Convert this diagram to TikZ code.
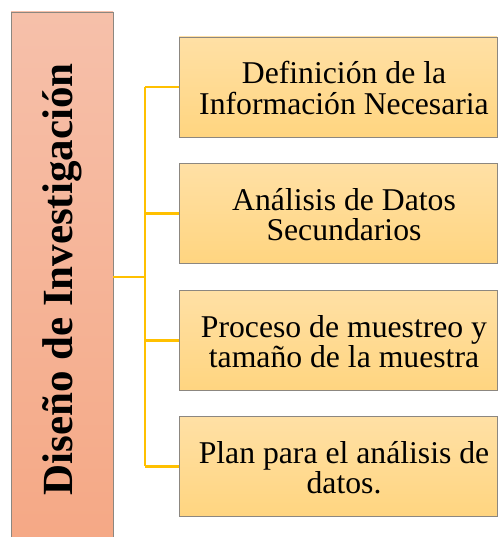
\documentclass[tikz,border=0pt]{standalone}
\usepackage{fontspec}
\usepackage{graphicx}
\setmainfont{Liberation Serif}
\definecolor{ltop}{RGB}{246,192,170}
\definecolor{lbot}{RGB}{245,168,133}
\definecolor{rtop}{RGB}{255,224,165}
\definecolor{rbot}{RGB}{255,213,128}
\definecolor{edge}{RGB}{140,135,128}
\definecolor{conn}{RGB}{255,192,0}
\tikzset{
  itembox/.style={draw=edge, line width=0.9pt, top color=rtop, bottom color=rbot,
    minimum width=318pt, minimum height=100pt, inner sep=0pt},
  itemtext/.style={inner sep=0pt, align=center,
    font=\fontsize{31.7}{30.5}\selectfont},
  mainbox/.style={draw=edge, line width=0.9pt, top color=ltop, bottom color=lbot,
    minimum width=102pt, minimum height=535pt, inner sep=0pt},
  link/.style={draw=conn, line width=2.2pt}
}
\begin{document}
\begin{tikzpicture}[x=1pt,y=1pt]
\useasboundingbox (0,0) rectangle (501,537);
\clip (0,0) rectangle (501,537);
\node[mainbox] (L) at (62,257.5) {\rotatebox{90}{\fontsize{43}{43}\selectfont\bfseries Diseño de Investigación}};
\node[itembox] (B1) at (338,450) {};
\node[itembox] (B2) at (338,323.5) {};
\node[itembox] (B3) at (338,196.5) {};
\node[itembox] (B4) at (338,70.5) {};
\node[itemtext] (T1) at ([xshift=6pt,yshift=-1pt]B1.center) {Definición de la\\Información Necesaria};
\node[itemtext] (T2) at ([xshift=6pt,yshift=-1pt]B2.center) {Análisis de Datos\\Secundarios};
\node[itemtext] (T3) at ([xshift=6pt,yshift=-1pt]B3.center) {Proceso de muestreo y\\tamaño de la muestra};
\node[itemtext] (T4) at ([xshift=6pt,yshift=-1pt]B4.center) {Plan para el análisis de\\datos.};
\coordinate (J) at (145,260);
\coordinate (T) at (145,450);
\coordinate (Bt) at (145,70.5);
\draw[link] (L.east |- J) -- (J);
\draw[link] (T) -- (Bt);
\draw[link] (T) -- (B1.west);
\draw[link] (145,323.5) -- (B2.west);
\draw[link] (145,196.5) -- (B3.west);
\draw[link] (Bt) -- (B4.west);
\end{tikzpicture}
\end{document}
